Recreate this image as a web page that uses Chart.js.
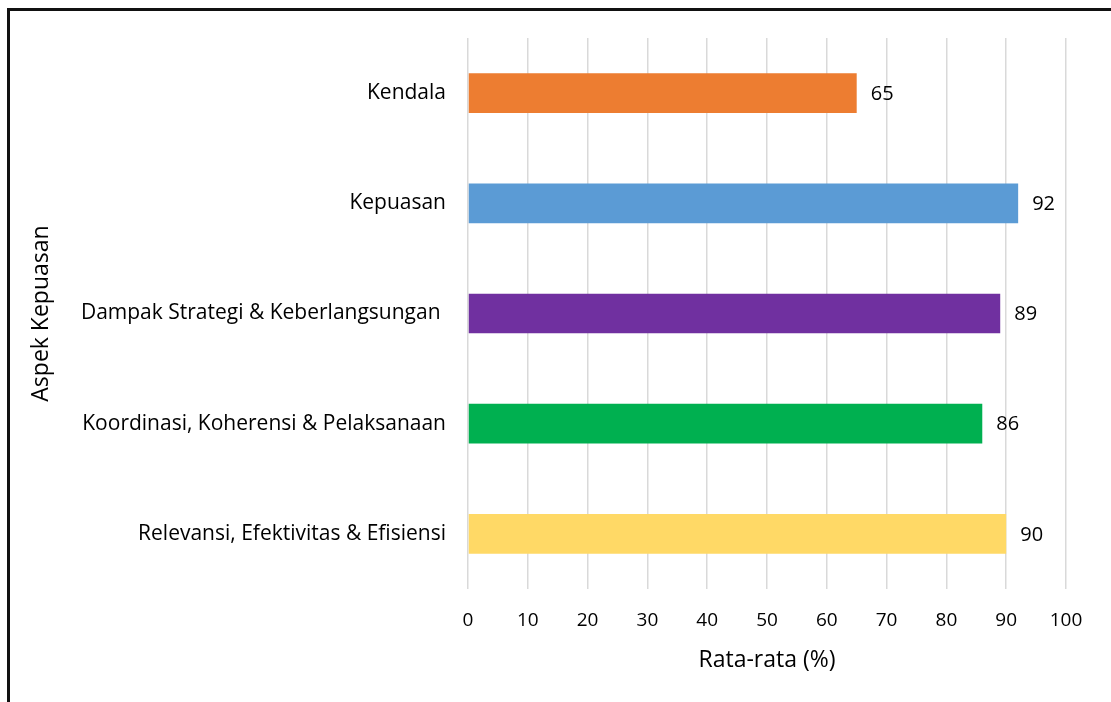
<!DOCTYPE html>
<html>
<head>
<meta charset="utf-8">
<script src="https://cdn.jsdelivr.net/npm/chart.js@4"></script>
<style>
  html, body { margin: 0; padding: 0; background: #fff; overflow: hidden; }
  #wrap { position: relative; width: 1111px; height: 702px; }
  #frame { position: absolute; left: 7px; top: 8px; width: 1200px; height: 800px; border: 3px solid #111; box-sizing: border-box; }
  canvas { position: absolute; left: 0; top: 0; }
</style>
</head>
<body>
<div id="wrap">
  <div id="frame"></div>
  <canvas id="grafico" width="1111" height="702"></canvas>
</div>
<script>
// 👉 Datos del gráfico
const aspek = [
  "Kendala",
  "Kepuasan",
  "Dampak Strategi & Keberlangsungan ",
  "Koordinasi, Koherensi & Pelaksanaan",
  "Relevansi, Efektivitas & Efisiensi"
];
const rataRata = [65, 92, 89, 86, 90];
const warna = ["#ED7D31", "#5B9BD5", "#7030A0", "#00B050", "#FFD966"];
const ticksX = [0, 10, 20, 30, 40, 50, 60, 70, 80, 90, 100];

const fuente = "'Open Sans', sans-serif";

// 👉 Etiquetas de valor al final de cada barra
const etiquetas = {
  id: "etiquetas",
  afterDatasetsDraw(chart) {
    const ctx = chart.ctx;
    const meta = chart.getDatasetMeta(0);
    ctx.save();
    ctx.font = "20px " + fuente;
    ctx.fillStyle = "#000";
    ctx.textAlign = "left";
    ctx.textBaseline = "middle";
    meta.data.forEach((bar, i) => {
      ctx.fillText(rataRata[i], bar.x + 14, bar.y + 1);
    });
    ctx.restore();
  }
};

new Chart(document.getElementById("grafico"), {
  type: "bar",
  data: {
    labels: aspek,
    datasets: [{
      data: rataRata,
      backgroundColor: warna,
      borderWidth: 0,
      barPercentage: 0.36,
      categoryPercentage: 1
    }]
  },
  options: {
    indexAxis: "y",
    responsive: false,
    animation: false,
    events: [],
    layout: { padding: { top: 38, right: 45, left: 0, bottom: 0 } },
    plugins: {
      legend: { display: false },
      tooltip: { enabled: false }
    },
    scales: {
      x: {
        min: 0,
        max: 100,
        afterBuildTicks: s => { s.ticks = ticksX.map(v => ({ value: v })); },
        afterFit: s => { s.height = 702 - 589; },
        grid: { color: "#d9d9d9", lineWidth: 1.5, drawTicks: false },
        border: { display: false },
        ticks: { color: "#000", padding: 20, font: { family: fuente, size: 19 } },
        title: {
          display: true,
          text: "Rata-rata (%)",
          color: "#000",
          font: { family: fuente, size: 23 },
          padding: { top: 0, bottom: 28 }
        }
      },
      y: {
        afterFit: s => { s.width = 468; },
        grid: { display: false, drawTicks: false },
        border: { display: false },
        ticks: { color: "#000", padding: 22, font: { family: fuente, size: 21 } },
        title: {
          display: true,
          text: "Aspek Kepuasan",
          color: "#000",
          font: { family: fuente, size: 23 },
          padding: { top: 28, bottom: 0 }
        }
      }
    }
  },
  plugins: [etiquetas]
});
</script>
</body>
</html>
